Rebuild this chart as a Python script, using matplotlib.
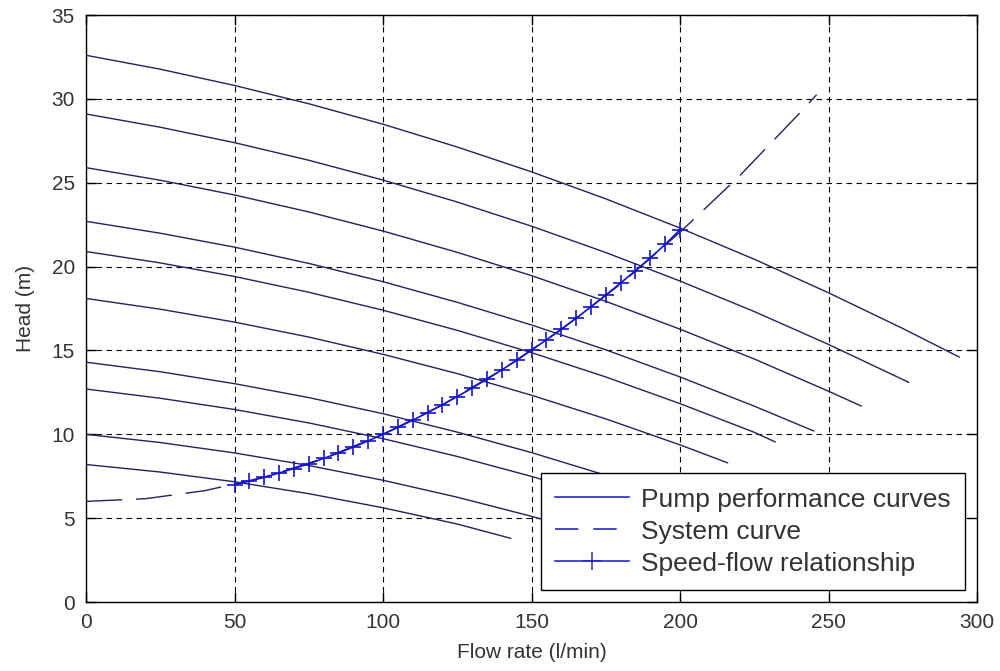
import matplotlib
matplotlib.use("Agg")
import matplotlib.pyplot as plt
from matplotlib.lines import Line2D

plt.rcParams['font.family'] = ['Liberation Sans', 'DejaVu Sans']

# ---- data ----
q_pump_1 = [0, 25, 50, 75, 100, 125, 150, 175, 200, 225, 250, 275, 294]
h_pump_1 = [32.6, 31.77, 30.80, 29.71, 28.49, 27.13, 25.65, 24.04, 22.30, 20.44, 18.44, 16.31, 14.61]
q_pump_2 = [0, 25, 50, 75, 100, 125, 150, 175, 200, 225, 250, 277]
h_pump_2 = [29.1, 28.31, 27.39, 26.34, 25.16, 23.85, 22.41, 20.84, 19.14, 17.32, 15.36, 13.10]
q_pump_3 = [0, 25, 50, 75, 100, 125, 150, 175, 200, 225, 250, 261]
h_pump_3 = [25.9, 25.15, 24.27, 23.26, 22.12, 20.85, 19.46, 17.93, 16.27, 14.49, 12.57, 11.69]
q_pump_4 = [0, 25, 50, 75, 100, 125, 150, 175, 200, 225, 245]
h_pump_4 = [22.7, 21.99, 21.16, 20.19, 19.10, 17.87, 16.52, 15.04, 13.42, 11.68, 10.20]
q_pump_5 = [0, 25, 50, 75, 100, 125, 150, 175, 200, 225, 232]
h_pump_5 = [20.9, 20.22, 19.41, 18.47, 17.40, 16.20, 14.87, 13.42, 11.83, 10.12, 9.55]
q_pump_6 = [0, 25, 50, 75, 100, 125, 150, 175, 200, 216]
h_pump_6 = [18.1, 17.46, 16.69, 15.80, 14.77, 13.62, 12.33, 10.92, 9.37, 8.30]
q_pump_7 = [0, 25, 50, 75, 100, 125, 150, 175, 195]
h_pump_7 = [14.3, 13.73, 13.02, 12.19, 11.23, 10.13, 8.91, 7.56, 6.39]
q_pump_8 = [0, 25, 50, 75, 100, 125, 150, 175, 183]
h_pump_8 = [12.7, 12.15, 11.48, 10.68, 9.74, 8.68, 7.49, 6.17, 5.72]
q_pump_9 = [0, 25, 50, 75, 100, 125, 150, 163]
h_pump_9 = [10.0, 9.51, 8.89, 8.14, 7.26, 6.25, 5.11, 4.47]
q_pump_10 = [0, 25, 50, 75, 100, 125, 143]
h_pump_10 = [8.2, 7.75, 7.17, 6.46, 5.62, 4.65, 3.80]

q_system = [0, 20, 40, 60, 80, 100, 120, 140, 160, 180, 200, 220, 240, 246]
h_system = [6.00, 6.16, 6.64, 7.44, 8.56, 10.00, 11.76, 13.84, 16.24, 18.96, 22.05, 25.40, 29.10, 30.25]

q_speed = [50, 55, 60, 65, 70, 75, 80, 85, 90, 95, 100, 105, 110, 115, 120,
           125, 130, 135, 140, 145, 150, 155, 160, 165, 170, 175, 180, 185,
           190, 195, 200]
h_speed = [7.00, 7.21, 7.44, 7.69, 7.96, 8.25, 8.56, 8.89, 9.24, 9.61, 10.00,
           10.41, 10.84, 11.29, 11.76, 12.25, 12.76, 13.29, 13.84, 14.41, 15.02,
           15.63, 16.27, 16.92, 17.60, 18.30, 19.02, 19.76, 20.52, 21.32, 22.20]

x_ticks = [0, 50, 100, 150, 200, 250, 300]
y_ticks = [0, 5, 10, 15, 20, 25, 30, 35]
legend_labels = ["Pump performance curves", "System curve", "Speed-flow relationship"]

pump_q = [q_pump_1, q_pump_2, q_pump_3, q_pump_4, q_pump_5,
          q_pump_6, q_pump_7, q_pump_8, q_pump_9, q_pump_10]
pump_h = [h_pump_1, h_pump_2, h_pump_3, h_pump_4, h_pump_5,
          h_pump_6, h_pump_7, h_pump_8, h_pump_9, h_pump_10]

pump_color = "#22225e"
leg_color = "#2a2ab4"
speed_color = "#1414c8"

fig = plt.figure(figsize=(10, 6.71), dpi=100)
ax = fig.add_axes([0.086, 0.1028, 0.891, 0.8748])

for q, h in zip(pump_q, pump_h):
    ax.plot(q, h, color=pump_color, lw=1.0, zorder=3)

sys_line, = ax.plot(q_system, h_system, color=pump_color, lw=1.0, zorder=3)
sys_line.set_dashes((26, 10))

ax.plot(q_speed, h_speed, color=speed_color, lw=1.2, marker='+',
        markersize=12, markeredgewidth=1.2, zorder=4)

ax.set_xlim(0, 300)
ax.set_ylim(0, 35)
ax.set_xticks(x_ticks)
ax.set_yticks(y_ticks)
ax.tick_params(direction='in', length=7, width=1, top=True, right=True,
               labelsize=15, pad=8, colors='black')
for lab in ax.get_xticklabels() + ax.get_yticklabels():
    lab.set_color('#333333')
ax.grid(True, color='black', linestyle=(0, (5, 4)), linewidth=0.8)
ax.set_axisbelow(True)
for s in ax.spines.values():
    s.set_linewidth(1.0)
    s.set_color('black')

ax.set_xlabel("Flow rate (l/min)", fontsize=15, color='#333333', labelpad=8)
ax.set_ylabel("Head (m)", fontsize=15, color='#333333', labelpad=12)

h1 = Line2D([], [], color=leg_color, lw=1.2)
h2 = Line2D([], [], color=leg_color, lw=1.2, dashes=(14, 9))
h3 = Line2D([], [], color=leg_color, lw=1.2, marker='+', markersize=13,
            markeredgewidth=1.1)
leg = ax.legend([h1, h2, h3], legend_labels, loc='lower right',
                bbox_to_anchor=(0.9865, 0.0204), fontsize=19, frameon=True,
                fancybox=False, edgecolor='black', framealpha=1,
                handlelength=2.8, handletextpad=0.45, labelspacing=0.3,
                borderpad=0.55, borderaxespad=0.0)
leg.get_frame().set_linewidth(1.0)
leg.set_zorder(10)
for t in leg.get_texts():
    t.set_color('#333333')

fig.savefig("out.png", dpi=100)
